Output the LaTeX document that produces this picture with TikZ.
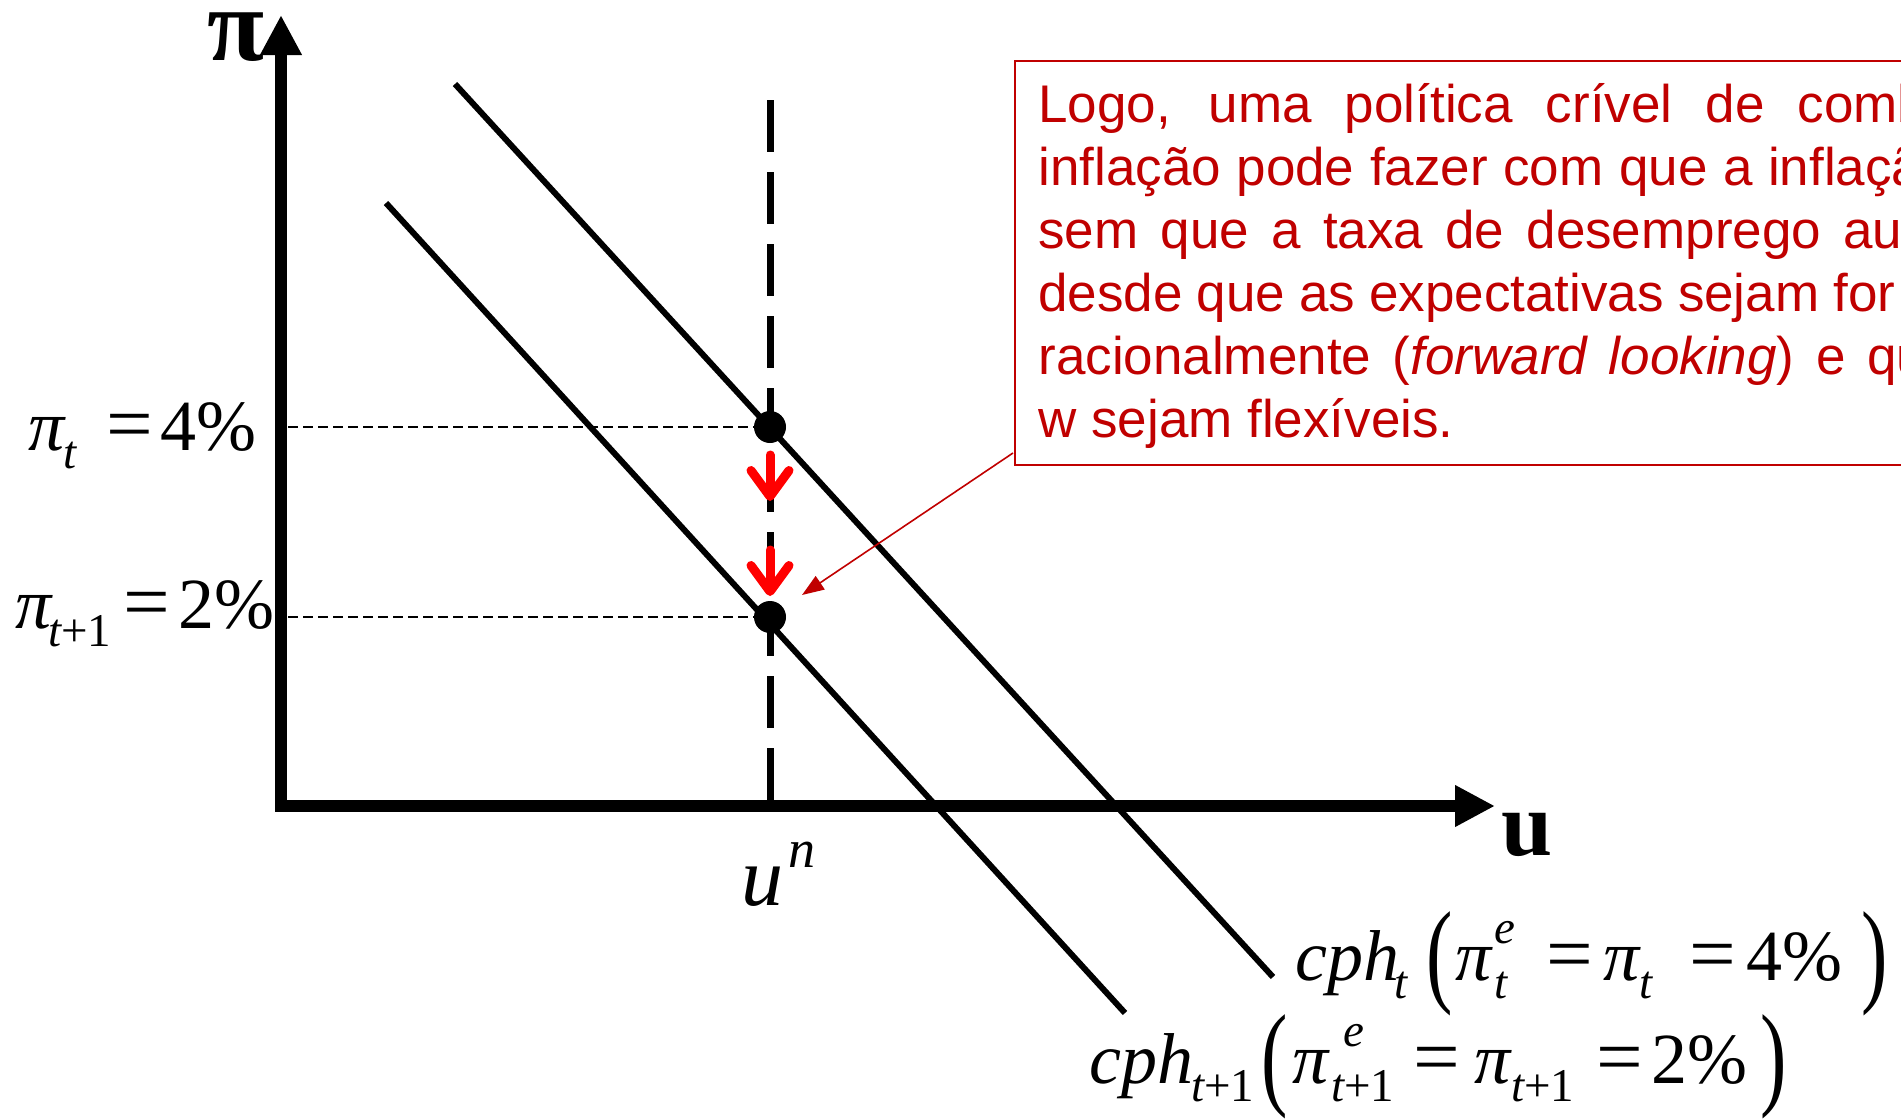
\documentclass[tikz,border=0pt]{standalone}
\usepackage{graphicx}
\usepackage{fontspec}
\setmainfont{Liberation Serif}
\newfontfamily\sansf{Liberation Sans}
\usetikzlibrary{arrows.meta}
\definecolor{boxred}{RGB}{192,0,0}
\newcommand\putat[2]{\rlap{\hspace*{#1}#2}}
\newcommand\msz{\fontsize{36}{40}\selectfont}
\newcommand\ssz{\fontsize{23.5}{26}\selectfont}
\newcommand\lsub[1]{\raisebox{-9pt}{\ssz\itshape #1}}
\newcommand\hsup[1]{\raisebox{18.5pt}{\ssz\itshape #1}}
\newcommand\bigparen[1]{\raisebox{-5.5pt}{\scalebox{1.1}[1.6]{#1}}}
\newcommand\eqs{\scalebox{1.15}[1.1]{=}}
\tikzset{
  axis/.style={line width=6pt, line join=miter, {Triangle[length=20pt,width=19.5pt]}-{Triangle[length=20pt,width=19.5pt]}},
  curve/.style={line width=3pt},
  unline/.style={line width=3.5pt, dash pattern=on 26pt off 10pt},
  guide/.style={line width=1.2pt, dash pattern=on 5pt off 2.5pt},
  dot/.style={circle, fill=black, inner sep=0pt, minimum size=16pt},
  downarr/.style={draw=red, line width=4.5pt, line cap=round, -{Straight Barb[length=13pt,width=19pt,round]}},
  lab/.style={anchor=base west, inner sep=0pt, font=\msz},
  boxtxt/.style={anchor=base west, inner sep=0pt, text=boxred, font=\sansf\fontsize{26.5}{30}\selectfont},
  callout/.style={draw=boxred, line width=0.8pt, -{Triangle[length=11pt,width=8pt]}}
}
\begin{document}
\begin{tikzpicture}[x=0.5pt, y=-0.5pt]
\useasboundingbox (0,0) rectangle (1901,1119);
\clip (0,0) rectangle (1901,1119);
% coordinates
\coordinate (Ytop) at (281,15);
\coordinate (O) at (281,806);
\coordinate (Xend) at (1495,806);
\coordinate (UnTop) at (770,100);
\coordinate (UnBot) at (770,806);
\coordinate (H1) at (288,427);
\coordinate (H2) at (288,617);
\coordinate (L1a) at (455,84);
\coordinate (L1b) at (1273,977);
\coordinate (L2a) at (386,203);
\coordinate (L2b) at (1125,1013);
\coordinate (A1s) at (770,455);
\coordinate (A1e) at (770,501);
\coordinate (A2s) at (770,550);
\coordinate (A2e) at (770,596);
\coordinate (C0) at (1013,453);
\coordinate (Ctip) at (802,595);
% curves and guides
\draw[unline] (UnTop) -- (UnBot);
\draw[curve] (L1a) -- (L1b);
\draw[curve] (L2a) -- (L2b);
\node[dot] (D1) at (770,427) {};
\node[dot] (D2) at (770,617) {};
\draw[guide] (H1) -- (D1.center);
\draw[guide] (H2) -- (D2.center);
\draw[axis] (Ytop) -- (O) -- (Xend);
\draw[downarr] (A1s) -- (A1e);
\draw[downarr] (A2s) -- (A2e);
% axis labels
\node[anchor=base west, inner sep=0pt, font=\bfseries\fontsize{52}{52}\selectfont] (pilab) at (207,61) {π};
\node[anchor=base west, inner sep=0pt, font=\bfseries\fontsize{46}{46}\selectfont] (ulab) at (1501,855) {u};
\node[anchor=base west, inner sep=0pt] (unlab) at (741,905) {\fontsize{42}{42}\selectfont\itshape\putat{0pt}{u}\putat{23.5pt}{\raisebox{19pt}{\fontsize{27}{27}\selectfont n}}\hspace*{36pt}};
\node[lab] (piA) at (28,450) {\putat{0pt}{\itshape π}\putat{17.5pt}{\lsub{t}}\putat{39pt}{\eqs}\putat{66pt}{4\%}\hspace*{112pt}};
\node[lab] (piB) at (15,628) {\putat{0pt}{\itshape π}\putat{16.5pt}{\lsub{t\upshape+1}}\putat{54pt}{\eqs}\putat{81.5pt}{2\%}\hspace*{127pt}};
\node[lab] (cphA) at (1295,980) {\putat{0pt}{\itshape cph}\putat{49.5pt}{\lsub{t}}\putat{65.5pt}{\bigparen{(}}\putat{80pt}{\itshape π}\putat{99.5pt}{\hsup{e}}\putat{99.5pt}{\lsub{t}}\putat{125.5pt}{\eqs}\putat{154pt}{\itshape π}\putat{172pt}{\lsub{t}}\putat{197pt}{\eqs}\putat{225.5pt}{4\%}\putat{283pt}{\bigparen{)}}\hspace*{296pt}};
\node[lab] (cphB) at (1089,1083) {\putat{0pt}{\itshape cph}\putat{51pt}{\lsub{t\upshape+1}}\putat{86pt}{\bigparen{(}}\putat{101.5pt}{\itshape π}\putat{127pt}{\hsup{e}}\putat{121pt}{\lsub{t\upshape+1}}\putat{162pt}{\eqs}\putat{192.5pt}{\itshape π}\putat{211pt}{\lsub{t\upshape+1}}\putat{253.5pt}{\eqs}\putat{281pt}{2\%}\putat{335.5pt}{\bigparen{)}}\hspace*{348pt}};
% callout box
\node[draw=boxred, line width=1pt, minimum width=543pt, minimum height=202pt, anchor=north west, inner sep=0pt] (box) at (1014,60) {};
\node[boxtxt] (t1) at (1038,122) {\makebox[444.5pt][s]{Logo, uma política crível de comb}};
\node[boxtxt] (t2) at (1038,185) {\makebox[441.5pt][s]{inflação pode fazer com que a inflaçã}};
\node[boxtxt] (t3) at (1038,248) {\makebox[432pt][s]{sem que a taxa de desemprego au}};
\node[boxtxt] (t4) at (1038,311) {\makebox[428.5pt][s]{desde que as expectativas sejam for}};
\node[boxtxt] (t5) at (1038,374) {\makebox[444pt][s]{racionalmente (\textit{forward looking}) e qu}};
\node[boxtxt] (t6) at (1038,437) {w sejam flexíveis.};
\draw[callout] (C0) -- (Ctip);
\end{tikzpicture}
\end{document}
